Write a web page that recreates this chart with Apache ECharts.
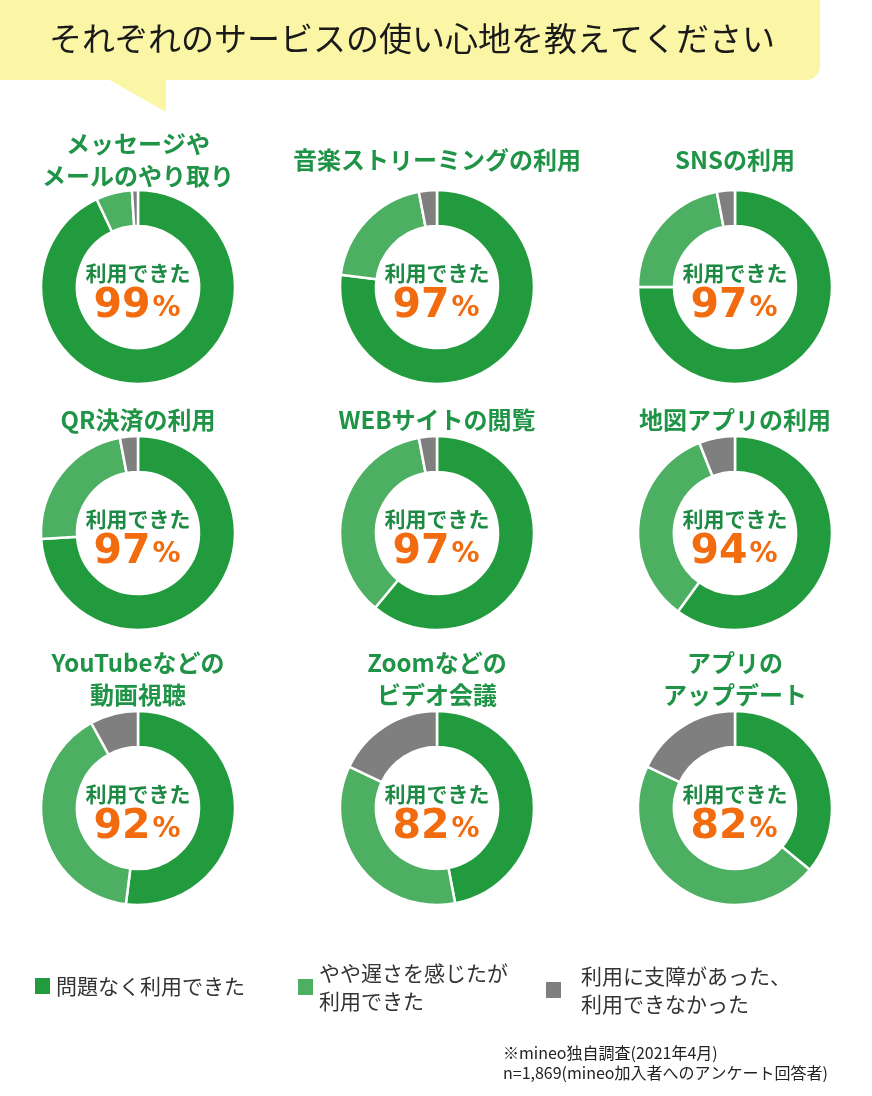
<!DOCTYPE html>
<html>
<head>
<meta charset="utf-8">
<script src="https://cdn.jsdelivr.net/npm/echarts@6/dist/echarts.min.js"></script>
<style>
html,body{margin:0;padding:0;background:#fff;}
#chart{width:872px;height:1096px;}
</style>
</head>
<body>
<div id="chart"></div>
<script>
// ---- data ----
const chartTitle = 'それぞれのサービスの使い心地を教えてください';
const services = [
  'メッセージや\nメールのやり取り',
  '音楽ストリーミングの利用',
  'SNSの利用',
  'QR決済の利用',
  'WEBサイトの閲覧',
  '地図アプリの利用',
  'YouTubeなどの\n動画視聴',
  'Zoomなどの\nビデオ会議',
  'アプリの\nアップデート'
];
const categories = ['問題なく利用できた', 'やや遅さを感じたが利用できた', '利用に支障があった、利用できなかった'];
const noProblem = [93, 77, 75, 74, 61, 60, 52, 47, 36];
const slightlySlow = [6, 20, 22, 23, 36, 34, 40, 35, 46];
const notUsable = [1, 3, 3, 3, 3, 6, 8, 18, 18];
const usableRate = [99, 97, 97, 97, 97, 94, 92, 82, 82];
const centerLabel = '利用できた';
const legendLabels = ['問題なく利用できた', 'やや遅さを感じたが\n利用できた', '利用に支障があった、\n利用できなかった'];
const footnotes = ['※mineo独自調査(2021年4月)', 'n=1,869(mineo加入者へのアンケート回答者)'];

// ---- layout ----
const colors = ['#229a3e', '#4daf62', '#7f7f7f'];
const colX = [138, 437, 735];
const rowY = [287, 533, 808];
const rowTitleY = [160, 420, 679];
const FONT = '"Noto Sans CJK JP", "Noto Sans", sans-serif';
const NUMFONT = '"DejaVu Sans", "Noto Sans", sans-serif';

const chart = echarts.init(document.getElementById('chart'), null, {renderer: 'canvas'});

const series = [];
const graphics = [];

// speech bubble
graphics.push({
  type: 'rect', shape: {x: -20, y: -20, width: 840, height: 100, r: 14},
  style: {fill: '#fbf6a6'}, z: 1
});
graphics.push({
  type: 'polygon', shape: {points: [[108, 79], [166, 112], [166, 79]]},
  style: {fill: '#fbf6a6'}, z: 1
});
graphics.push({
  type: 'text', x: 412, y: 38, z: 2,
  style: {text: chartTitle, font: 'normal 33px ' + FONT, fill: '#1a1a1a', textAlign: 'center', textVerticalAlign: 'middle'}
});

services.forEach((name, i) => {
  const c = colX[i % 3], r = rowY[Math.floor(i / 3)];
  series.push({
    type: 'pie',
    name: name.replace('\n', ''),
    center: [c, r],
    radius: [61, 97],
    startAngle: 90,
    clockwise: true,
    silent: true,
    label: {show: false},
    labelLine: {show: false},
    itemStyle: {borderColor: '#ffffff', borderWidth: 2.5},
    data: [
      {name: categories[0], value: noProblem[i], itemStyle: {color: colors[0]}},
      {name: categories[1], value: slightlySlow[i], itemStyle: {color: colors[1]}},
      {name: categories[2], value: notUsable[i], itemStyle: {color: colors[2]}}
    ]
  });
  // service title
  graphics.push({
    type: 'text', x: c, y: rowTitleY[Math.floor(i / 3)], z: 5,
    style: {text: name, font: 'bold 24px ' + FONT, fill: '#1f9446', textAlign: 'center', textVerticalAlign: 'middle', lineHeight: 32}
  });
  // center texts
  graphics.push({
    type: 'text', x: c, y: r - 14, z: 5,
    style: {text: centerLabel, font: 'bold 21px ' + FONT, fill: '#1d8a43', textAlign: 'center', textVerticalAlign: 'middle'}
  });
  graphics.push({
    type: 'text', x: c - 1, y: r + 19, z: 5,
    style: {
      text: '{n|' + usableRate[i] + '}{p|%}',
      textAlign: 'center', textVerticalAlign: 'middle',
      rich: {
        n: {fontFamily: NUMFONT, fontWeight: 'bold', fontSize: 41, fill: '#f26b0f', color: '#f26b0f'},
        p: {fontFamily: NUMFONT, fontWeight: 'bold', fontSize: 28, fill: '#f26b0f', color: '#f26b0f', padding: [6, 0, 0, 2]}
      }
    }
  });
});

// footnotes
footnotes.forEach((t, k) => {
  graphics.push({
    type: 'text', x: 503, y: 1053 + k * 20, z: 5,
    style: {text: t, font: 'normal 16px ' + FONT, fill: '#222', textAlign: 'left', textVerticalAlign: 'middle'}
  });
});

const legendPos = [{left: 28, top: 967}, {left: 291, top: 954}, {left: 539, top: 957}];
const legends = categories.map((cat, k) => ({
  left: legendPos[k].left, top: legendPos[k].top,
  orient: 'horizontal',
  data: [{name: cat, icon: 'rect'}],
  itemWidth: 17, itemHeight: 18,
  itemGap: 0,
  selectedMode: false,
  formatter: () => legendLabels[k],
  textStyle: {fontFamily: FONT, fontSize: 21, color: '#333', lineHeight: 28, padding: [0, 0, 0, k === 2 ? 14 : 0]}
}));

chart.setOption({
  backgroundColor: '#ffffff',
  animation: false,
  color: colors,
  legend: legends,
  series: series,
  graphic: graphics
});
</script>
</body>
</html>
